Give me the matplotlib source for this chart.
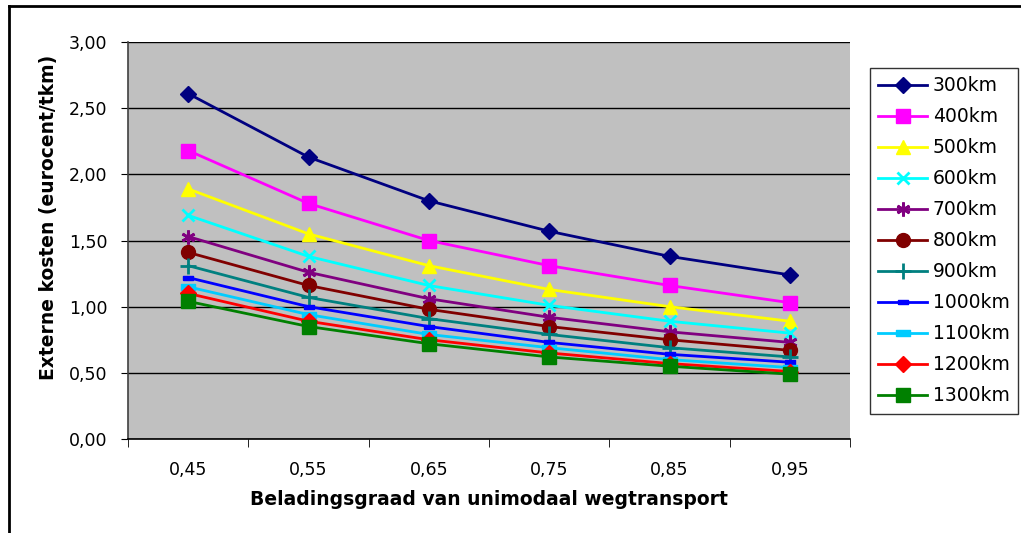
import numpy as np
import matplotlib
matplotlib.use("Agg")
import matplotlib.pyplot as plt
from matplotlib.lines import Line2D

categorieen = ["0,45", "0,55", "0,65", "0,75", "0,85", "0,95"]
series_namen = ["300km", "400km", "500km", "600km", "700km", "800km",
                "900km", "1000km", "1100km", "1200km", "1300km"]
km300 = [2.61, 2.13, 1.80, 1.57, 1.38, 1.24]
km400 = [2.18, 1.78, 1.50, 1.31, 1.16, 1.03]
km500 = [1.89, 1.55, 1.31, 1.13, 1.00, 0.89]
km600 = [1.69, 1.38, 1.16, 1.01, 0.89, 0.80]
km700 = [1.53, 1.26, 1.06, 0.92, 0.81, 0.73]
km800 = [1.41, 1.16, 0.98, 0.85, 0.75, 0.67]
km900 = [1.31, 1.07, 0.91, 0.79, 0.69, 0.62]
km1000 = [1.22, 1.00, 0.85, 0.73, 0.64, 0.58]
km1100 = [1.15, 0.94, 0.79, 0.69, 0.60, 0.54]
km1200 = [1.10, 0.89, 0.75, 0.65, 0.57, 0.51]
km1300 = [1.04, 0.85, 0.72, 0.62, 0.55, 0.49]
waarden = [km300, km400, km500, km600, km700, km800,
           km900, km1000, km1100, km1200, km1300]

kleuren = ["#000080", "#FF00FF", "#FFFF00", "#00FFFF", "#800080", "#800000",
           "#008080", "#0000FF", "#00CCFF", "#FF0000", "#008000"]
klein_streepje = [(-1, -0.45), (1, -0.45), (1, 0.45), (-1, 0.45), (-1, -0.45)]
markers = ["D", "s", "^", "x", (6, 2, 0), "o", "+", klein_streepje, klein_streepje, "D", "s"]
groottes = [8, 10, 10, 9, 10, 10, 11, 7, 10, 8, 10]

fig = plt.figure(figsize=(10.21, 5.33), dpi=100)
ax = fig.add_axes([128/1021, 1-439/533, 722/1021, 397/533])
ax.set_facecolor("#C0C0C0")

x = np.arange(len(categorieen))
handles = []
for naam, y, c, m, s in zip(series_namen, waarden, kleuren, markers, groottes):
    mew = 2 if m in ("x", "+", (6, 2, 0)) else 1
    ln, = ax.plot(x, y, color=c, lw=2, marker=m, markersize=s,
                  markerfacecolor=c, markeredgecolor=c, markeredgewidth=mew,
                  label=naam, zorder=3)
    handles.append(ln)

ax.set_xlim(-0.5, len(categorieen) - 0.5)
ax.set_ylim(0, 3)
ax.set_yticks(np.arange(0, 3.01, 0.5))
ax.set_yticklabels([f"{v:.2f}".replace(".", ",") for v in np.arange(0, 3.01, 0.5)])
ax.set_xticks(x)
ax.set_xticklabels(categorieen)
ax.set_xticks(np.arange(-0.5, len(categorieen), 1), minor=True)
ax.tick_params(axis="x", which="major", length=0, pad=16, labelsize=12.5)
ax.tick_params(axis="x", which="minor", length=6, direction="out", color="black")
ax.tick_params(axis="y", length=5, direction="out", labelsize=12.5, pad=10)
ax.yaxis.grid(True, color="black", lw=1)
ax.set_axisbelow(True)
for side in ["top", "right"]:
    ax.spines[side].set_visible(False)
ax.spines["left"].set_color("#404040")
ax.spines["bottom"].set_color("black")
ax.spines["left"].set_linewidth(1.2)
ax.spines["bottom"].set_linewidth(1.2)

ax.set_xlabel("Beladingsgraad van unimodaal wegtransport", fontsize=13.5,
              fontweight="bold", labelpad=8)
ax.set_ylabel("Externe kosten (eurocent/tkm)", fontsize=13.5, fontweight="bold")
ax.yaxis.set_label_coords(-0.097, 0.559)

leg = fig.legend(handles=handles, loc="upper left",
                 bbox_to_anchor=(870/1021, 1-68/533), fontsize=13.5,
                 frameon=True, fancybox=False, edgecolor="black",
                 handlelength=2.6, labelspacing=0.64, borderpad=0.45,
                 handletextpad=0.3, borderaxespad=0)
leg.get_frame().set_linewidth(1)

# rand om de figuur
fig.add_artist(Line2D([9/1021, 1], [1-6/533, 1-6/533], color="black", lw=2,
                      transform=fig.transFigure))
fig.add_artist(Line2D([9/1021, 9/1021], [0, 1-6/533], color="black", lw=2,
                      transform=fig.transFigure))

fig.savefig("out.png", dpi=100)
